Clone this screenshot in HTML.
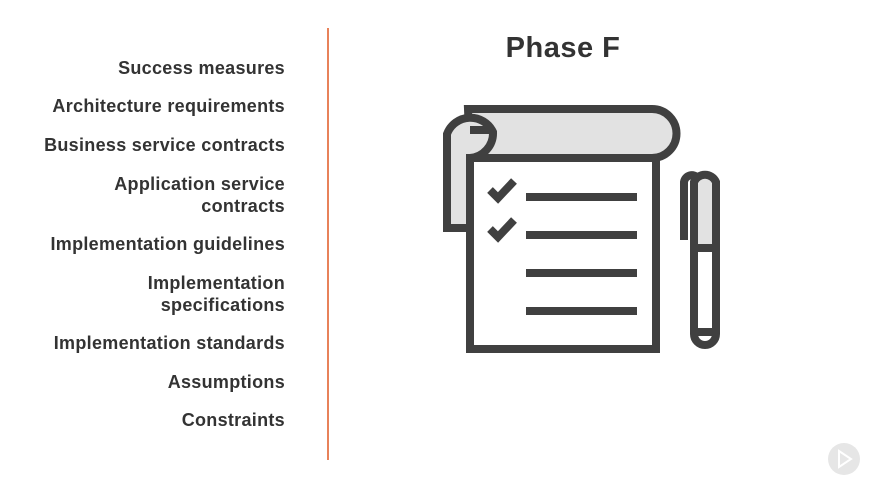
<!DOCTYPE html>
<html><head><style>
body{margin:0;width:876px;height:490px;background:#fff;position:relative;overflow:hidden;font-family:"Liberation Sans",sans-serif;}
.t{position:absolute;right:591px;text-align:right;color:#333;font-size:18px;font-weight:bold;line-height:22px;letter-spacing:0.3px}
</style></head><body>
<div class="t" style="top:57px">Success measures</div>
<div class="t" style="top:95px">Architecture requirements</div>
<div class="t" style="top:134px">Business service contracts</div>
<div class="t" style="top:173px">Application service<br>contracts</div>
<div class="t" style="top:233px">Implementation guidelines</div>
<div class="t" style="top:272px">Implementation<br>specifications</div>
<div class="t" style="top:332px">Implementation standards</div>
<div class="t" style="top:371px">Assumptions</div>
<div class="t" style="top:409px">Constraints</div>
<div style="position:absolute;left:327px;top:28px;width:2px;height:432px;background:#e8825a"></div>
<div style="position:absolute;left:463px;top:32px;width:200px;text-align:center;font-size:29px;color:#333;font-weight:bold;letter-spacing:0.5px">Phase F</div>
<svg width="876" height="490" style="position:absolute;left:0;top:0">
<g stroke="#404040" stroke-width="8" fill="none">
<path d="M468 109 H652 A24.5 24.5 0 0 1 652 158 H470 Z" fill="#e2e2e2"/>
<path d="M447 228 V134 A25 25 0 0 1 493 132 A25 25 0 0 1 470 158 V228 Z" fill="#e2e2e2"/>
<rect x="470" y="158" width="186" height="191" fill="#fff"/>
<path d="M470 130 H490" />
<line x1="526" y1="197" x2="637" y2="197"/>
<line x1="526" y1="235" x2="637" y2="235"/>
<line x1="526" y1="273" x2="637" y2="273"/>
<line x1="526" y1="311" x2="637" y2="311"/>
<path d="M490 190 L498 198 L514 181"/>
<path d="M490 229 L498 237 L514 220"/>
<path d="M684 240 V182 A8 8 0 0 1 698 178"/>
<path d="M694 248 V182 A12 12 0 0 1 716 182 V248 Z" fill="#e2e2e2"/>
<path d="M694 248 H716 V334 A11 11 0 0 1 694 334 Z" fill="#fff"/>
<path d="M694 332 H716"/>
</g>
<circle cx="844" cy="459" r="16" fill="#e6e6e6"/>
<path d="M839 451 L851 459 L839 467 Z" fill="none" stroke="#fff" stroke-width="2"/>
</svg>
</body></html>
